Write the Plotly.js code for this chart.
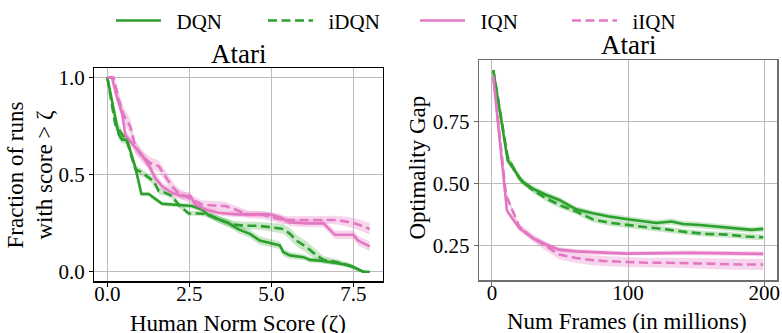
<!DOCTYPE html>
<html>
<head>
<meta charset="utf-8">
<script src="https://cdn.plot.ly/plotly-3.0.1.min.js"></script>
<style>html,body{margin:0;padding:0;background:#fff;}#chart{width:782px;height:333px;}</style>
</head>
<body>
<div id="chart"></div>
<script>
// ---------- Left panel: performance profiles (Human Norm Score ζ) ----------
const dqnTauX = [0, 0.35, 0.45, 0.6, 0.85, 1.04, 1.26, 1.41, 1.67, 1.97, 2.28, 2.58, 2.89, 3.09, 3.39, 3.70, 4.0, 4.35, 4.65, 5.0, 5.26, 5.37, 5.57, 5.98, 6.18, 6.59, 6.79, 7.2, 7.5, 7.7, 7.8, 8.0];
const dqnTauY = [1.0, 0.705, 0.68, 0.68, 0.54, 0.40, 0.40, 0.38, 0.35, 0.346, 0.341, 0.338, 0.32, 0.29, 0.27, 0.25, 0.218, 0.195, 0.16, 0.147, 0.135, 0.10, 0.084, 0.075, 0.061, 0.055, 0.05, 0.038, 0.024, 0.007, 0.0, 0.0];
const dqnTauErr = [0.0, 0.025, 0.02, 0.02, 0.02, 0.012, 0.012, 0.012, 0.012, 0.012, 0.012, 0.012, 0.015, 0.015, 0.018, 0.02, 0.02, 0.022, 0.022, 0.02, 0.02, 0.02, 0.018, 0.015, 0.015, 0.012, 0.012, 0.01, 0.01, 0.008, 0.005, 0.003];

const idqnTauX = [0, 0.24, 0.4, 0.6, 0.85, 1.06, 1.41, 1.57, 1.77, 1.97, 2.17, 2.48, 2.78, 3.09, 3.39, 3.8, 4.15, 4.55, 5.0, 5.37, 5.57, 5.77, 6.08, 6.38, 6.59, 6.99, 7.4, 7.6, 7.8, 8.0];
const idqnTauY = [1.0, 0.76, 0.72, 0.67, 0.53, 0.51, 0.466, 0.415, 0.406, 0.39, 0.346, 0.30, 0.30, 0.295, 0.27, 0.244, 0.237, 0.237, 0.229, 0.22, 0.195, 0.16, 0.126, 0.084, 0.061, 0.05, 0.032, 0.015, 0.0, 0.0];
const idqnTauErr = [0.0, 0.03, 0.025, 0.02, 0.02, 0.018, 0.018, 0.018, 0.015, 0.015, 0.015, 0.012, 0.012, 0.015, 0.018, 0.02, 0.02, 0.02, 0.022, 0.025, 0.03, 0.03, 0.03, 0.025, 0.02, 0.015, 0.012, 0.01, 0.005, 0.003];

const iqnTauX = [0, 0.14, 0.29, 0.45, 0.55, 0.75, 1.06, 1.26, 1.46, 1.67, 1.97, 2.28, 2.53, 2.68, 2.99, 3.39, 3.9, 4.41, 4.96, 5.26, 5.57, 6.08, 6.59, 6.94, 7.5, 7.65, 8.0];
const iqnTauY = [1.0, 1.0, 0.90, 0.816, 0.705, 0.66, 0.60, 0.55, 0.483, 0.44, 0.406, 0.39, 0.39, 0.346, 0.32, 0.304, 0.295, 0.295, 0.295, 0.28, 0.254, 0.249, 0.249, 0.19, 0.19, 0.16, 0.13];
const iqnTauErr = [0.0, 0.01, 0.03, 0.03, 0.03, 0.025, 0.025, 0.025, 0.025, 0.02, 0.02, 0.02, 0.02, 0.02, 0.015, 0.015, 0.015, 0.015, 0.015, 0.018, 0.02, 0.02, 0.02, 0.022, 0.022, 0.025, 0.025];

const iiqnTauX = [0, 0.19, 0.35, 0.5, 0.7, 0.85, 1.06, 1.31, 1.57, 1.77, 1.97, 2.17, 2.48, 2.68, 2.89, 3.19, 3.6, 3.9, 4.3, 4.76, 5.0, 5.37, 5.77, 6.59, 6.99, 7.3, 7.6, 8.0];
const iiqnTauY = [1.0, 1.0, 0.885, 0.807, 0.747, 0.645, 0.594, 0.56, 0.543, 0.49, 0.44, 0.406, 0.38, 0.363, 0.346, 0.341, 0.338, 0.32, 0.295, 0.293, 0.28, 0.266, 0.266, 0.266, 0.266, 0.258, 0.246, 0.22];
const iiqnTauErr = [0.0, 0.01, 0.04, 0.04, 0.04, 0.035, 0.03, 0.03, 0.03, 0.03, 0.028, 0.025, 0.022, 0.022, 0.022, 0.022, 0.022, 0.02, 0.02, 0.02, 0.02, 0.02, 0.02, 0.02, 0.022, 0.025, 0.028, 0.03];

// ---------- Right panel: optimality gap vs frames ----------
const dqnGapX = [1, 11.5, 22.5, 30, 40, 49.5, 54, 62, 74, 86, 98.5, 108.6, 120.8, 131.9, 140.4, 152.7, 162.5, 172.3, 182, 190.7, 199.3];
const dqnGapY = [0.959, 0.595, 0.507, 0.48, 0.454, 0.434, 0.42, 0.396, 0.38, 0.367, 0.357, 0.35, 0.341, 0.347, 0.337, 0.333, 0.328, 0.324, 0.317, 0.313, 0.317];
const dqnGapErr = [0.008, 0.015, 0.012, 0.012, 0.012, 0.012, 0.012, 0.012, 0.012, 0.012, 0.012, 0.012, 0.012, 0.012, 0.012, 0.012, 0.012, 0.012, 0.012, 0.012, 0.012];

const idqnGapX = [1, 11.5, 20, 30, 40, 49.5, 62, 74, 86, 98.5, 113.5, 128, 142.9, 157.6, 172.3, 187, 199.3];
const idqnGapY = [0.959, 0.608, 0.521, 0.474, 0.44, 0.414, 0.387, 0.356, 0.342, 0.333, 0.324, 0.315, 0.304, 0.297, 0.294, 0.286, 0.283];
const idqnGapErr = [0.008, 0.015, 0.012, 0.012, 0.012, 0.012, 0.012, 0.012, 0.012, 0.012, 0.012, 0.012, 0.012, 0.012, 0.012, 0.012, 0.012];

const iqnGapX = [1, 11, 20, 30, 40, 49.5, 62, 74, 86, 98.5, 113.5, 128, 143, 162.5, 182, 199.3];
const iqnGapY = [0.93, 0.391, 0.32, 0.28, 0.253, 0.233, 0.226, 0.222, 0.22, 0.217, 0.219, 0.22, 0.22, 0.219, 0.216, 0.216];
const iqnGapErr = [0.01, 0.012, 0.01, 0.01, 0.01, 0.01, 0.01, 0.01, 0.01, 0.01, 0.01, 0.01, 0.01, 0.01, 0.01, 0.01];

const iiqnGapX = [1, 10.3, 20, 30, 40, 49.5, 62, 74, 86, 98.5, 113.5, 128, 143, 162.5, 182, 199.3];
const iiqnGapY = [0.937, 0.454, 0.327, 0.28, 0.246, 0.213, 0.199, 0.19, 0.186, 0.183, 0.18, 0.18, 0.179, 0.176, 0.173, 0.173];
const iiqnGapErr = [0.01, 0.015, 0.012, 0.015, 0.018, 0.02, 0.02, 0.02, 0.02, 0.02, 0.02, 0.02, 0.02, 0.022, 0.022, 0.022];

const seriesNames = ['DQN', 'iDQN', 'IQN', 'iIQN'];
const panelTitles = ['Atari', 'Atari'];
const leftXTicks = [0, 2.5, 5, 7.5];
const leftYTicks = [0, 0.5, 1];
const rightXTicks = [0, 100, 200];
const rightYTicks = [0.25, 0.5, 0.75];

// ---------- styling ----------
const GREEN = '#2ca02c', PINK = '#e377c2';
const GREEN_BAND = 'rgba(44,160,44,0.25)', PINK_BAND = 'rgba(227,119,194,0.3)';
const FONT = 'Liberation Serif, Times New Roman, Times, serif';
const DASH = '9px,4.5px';

function band(x, y, e, fill, xa, ya) {
  const up = y.map((v, i) => v + e[i]);
  const lo = y.map((v, i) => v - e[i]);
  return {
    x: x.concat(x.slice().reverse()),
    y: up.concat(lo.slice().reverse()),
    xaxis: xa, yaxis: ya, type: 'scatter', mode: 'lines',
    fill: 'toself', fillcolor: fill, line: {width: 0, color: 'rgba(0,0,0,0)'},
    hoverinfo: 'skip', showlegend: false
  };
}
function line(x, y, color, dash, name, xa, ya, legend) {
  return {
    x: x, y: y, xaxis: xa, yaxis: ya, type: 'scatter', mode: 'lines', name: name,
    line: {color: color, width: 2.6, dash: dash}, showlegend: legend, legendgroup: name
  };
}

const data = [
  band(dqnTauX, dqnTauY, dqnTauErr, GREEN_BAND, 'x', 'y'),
  band(idqnTauX, idqnTauY, idqnTauErr, GREEN_BAND, 'x', 'y'),
  band(iqnTauX, iqnTauY, iqnTauErr, PINK_BAND, 'x', 'y'),
  band(iiqnTauX, iiqnTauY, iiqnTauErr, PINK_BAND, 'x', 'y'),
  line(dqnTauX, dqnTauY, GREEN, 'solid', '\u00a0\u00a0' + seriesNames[0], 'x', 'y', true),
  line(idqnTauX, idqnTauY, GREEN, DASH, '\u00a0\u00a0' + seriesNames[1], 'x', 'y', true),
  line(iqnTauX, iqnTauY, PINK, 'solid', '\u00a0\u00a0' + seriesNames[2], 'x', 'y', true),
  line(iiqnTauX, iiqnTauY, PINK, DASH, '\u00a0\u00a0' + seriesNames[3], 'x', 'y', true),
  band(dqnGapX, dqnGapY, dqnGapErr, GREEN_BAND, 'x2', 'y2'),
  band(idqnGapX, idqnGapY, idqnGapErr, GREEN_BAND, 'x2', 'y2'),
  band(iqnGapX, iqnGapY, iqnGapErr, PINK_BAND, 'x2', 'y2'),
  band(iiqnGapX, iiqnGapY, iiqnGapErr, PINK_BAND, 'x2', 'y2'),
  line(dqnGapX, dqnGapY, GREEN, 'solid', seriesNames[0], 'x2', 'y2', false),
  line(idqnGapX, idqnGapY, GREEN, DASH, seriesNames[1], 'x2', 'y2', false),
  line(iqnGapX, iqnGapY, PINK, 'solid', seriesNames[2], 'x2', 'y2', false),
  line(iiqnGapX, iiqnGapY, PINK, DASH, seriesNames[3], 'x2', 'y2', false)
];

const W = 782, H = 333;
const px = v => v / W, py = v => (H - v) / H;

function axis(extra, lc, lw) {
  return Object.assign({
    showline: true, mirror: true, linecolor: lc, linewidth: lw,
    ticks: 'outside', ticklen: 4, tickwidth: 1, tickcolor: lc,
    showgrid: true, gridcolor: '#bcbcbc', gridwidth: 1, zeroline: false,
    tickfont: {family: FONT, size: 21, color: '#000'},
    tickmode: 'array', automargin: false, fixedrange: true
  }, extra);
}

const layout = {
  width: W, height: H,
  margin: {l: 0, r: 0, t: 0, b: 0},
  paper_bgcolor: '#fff', plot_bgcolor: '#fff',
  font: {family: FONT, color: '#000'},
  showlegend: true,
  legend: {
    orientation: 'h', x: px(111), xanchor: 'left', y: py(19), yanchor: 'middle',
    font: {family: FONT, size: 21, color: '#000'}, itemwidth: 45, entrywidth: 92,
    bgcolor: 'rgba(0,0,0,0)', traceorder: 'normal'
  },
  xaxis: axis({domain: [px(94.2), px(382.8)], range: [-0.4, 8.4], tickvals: leftXTicks, tickformat: '.1f', anchor: 'y', ticklabelstandoff: -11}, '#000', 1.2),
  yaxis: axis({domain: [py(281.1), py(66.2)], range: [-0.05, 1.05], tickvals: leftYTicks, tickformat: '.1f', anchor: 'x'}, '#000', 1.2),
  xaxis2: axis({domain: [px(479.3), px(777.3)], range: [-9.3, 209.6], tickvals: rightXTicks, tickformat: 'd', anchor: 'y2', ticklabelstandoff: -11}, '#6e6e6e', 1.6),
  yaxis2: axis({domain: [py(280), py(58.7)], range: [0.109, 0.999], tickvals: rightYTicks, tickformat: '.2f', anchor: 'x2'}, '#6e6e6e', 1.6),
  annotations: [
    {text: panelTitles[0], xref: 'paper', yref: 'paper', x: px(238.5), y: py(52), xanchor: 'center', yanchor: 'middle', showarrow: false, font: {family: FONT, size: 27}},
    {text: panelTitles[1], xref: 'paper', yref: 'paper', x: px(628.3), y: py(43.5), xanchor: 'center', yanchor: 'middle', showarrow: false, font: {family: FONT, size: 27}},
    {text: 'Human Norm Score (ζ)', xref: 'paper', yref: 'paper', x: px(238.3), y: py(323.5), xanchor: 'center', yanchor: 'middle', showarrow: false, font: {family: FONT, size: 23}},
    {text: 'Num Frames (in millions)', xref: 'paper', yref: 'paper', x: px(627.3), y: py(321.5), xanchor: 'center', yanchor: 'middle', showarrow: false, font: {family: FONT, size: 23}},
    {text: 'Fraction of runs<br>with score &gt; ζ', xref: 'paper', yref: 'paper', x: px(30.5), y: py(174), xanchor: 'center', yanchor: 'middle', textangle: -90, showarrow: false, font: {family: FONT, size: 23}},
    {text: 'Optimality Gap', xref: 'paper', yref: 'paper', x: px(417.5), y: py(167), xanchor: 'center', yanchor: 'middle', textangle: -90, showarrow: false, font: {family: FONT, size: 23}}
  ]
};

Plotly.newPlot('chart', data, layout, {staticPlot: true, displayModeBar: false});
</script>
</body>
</html>
